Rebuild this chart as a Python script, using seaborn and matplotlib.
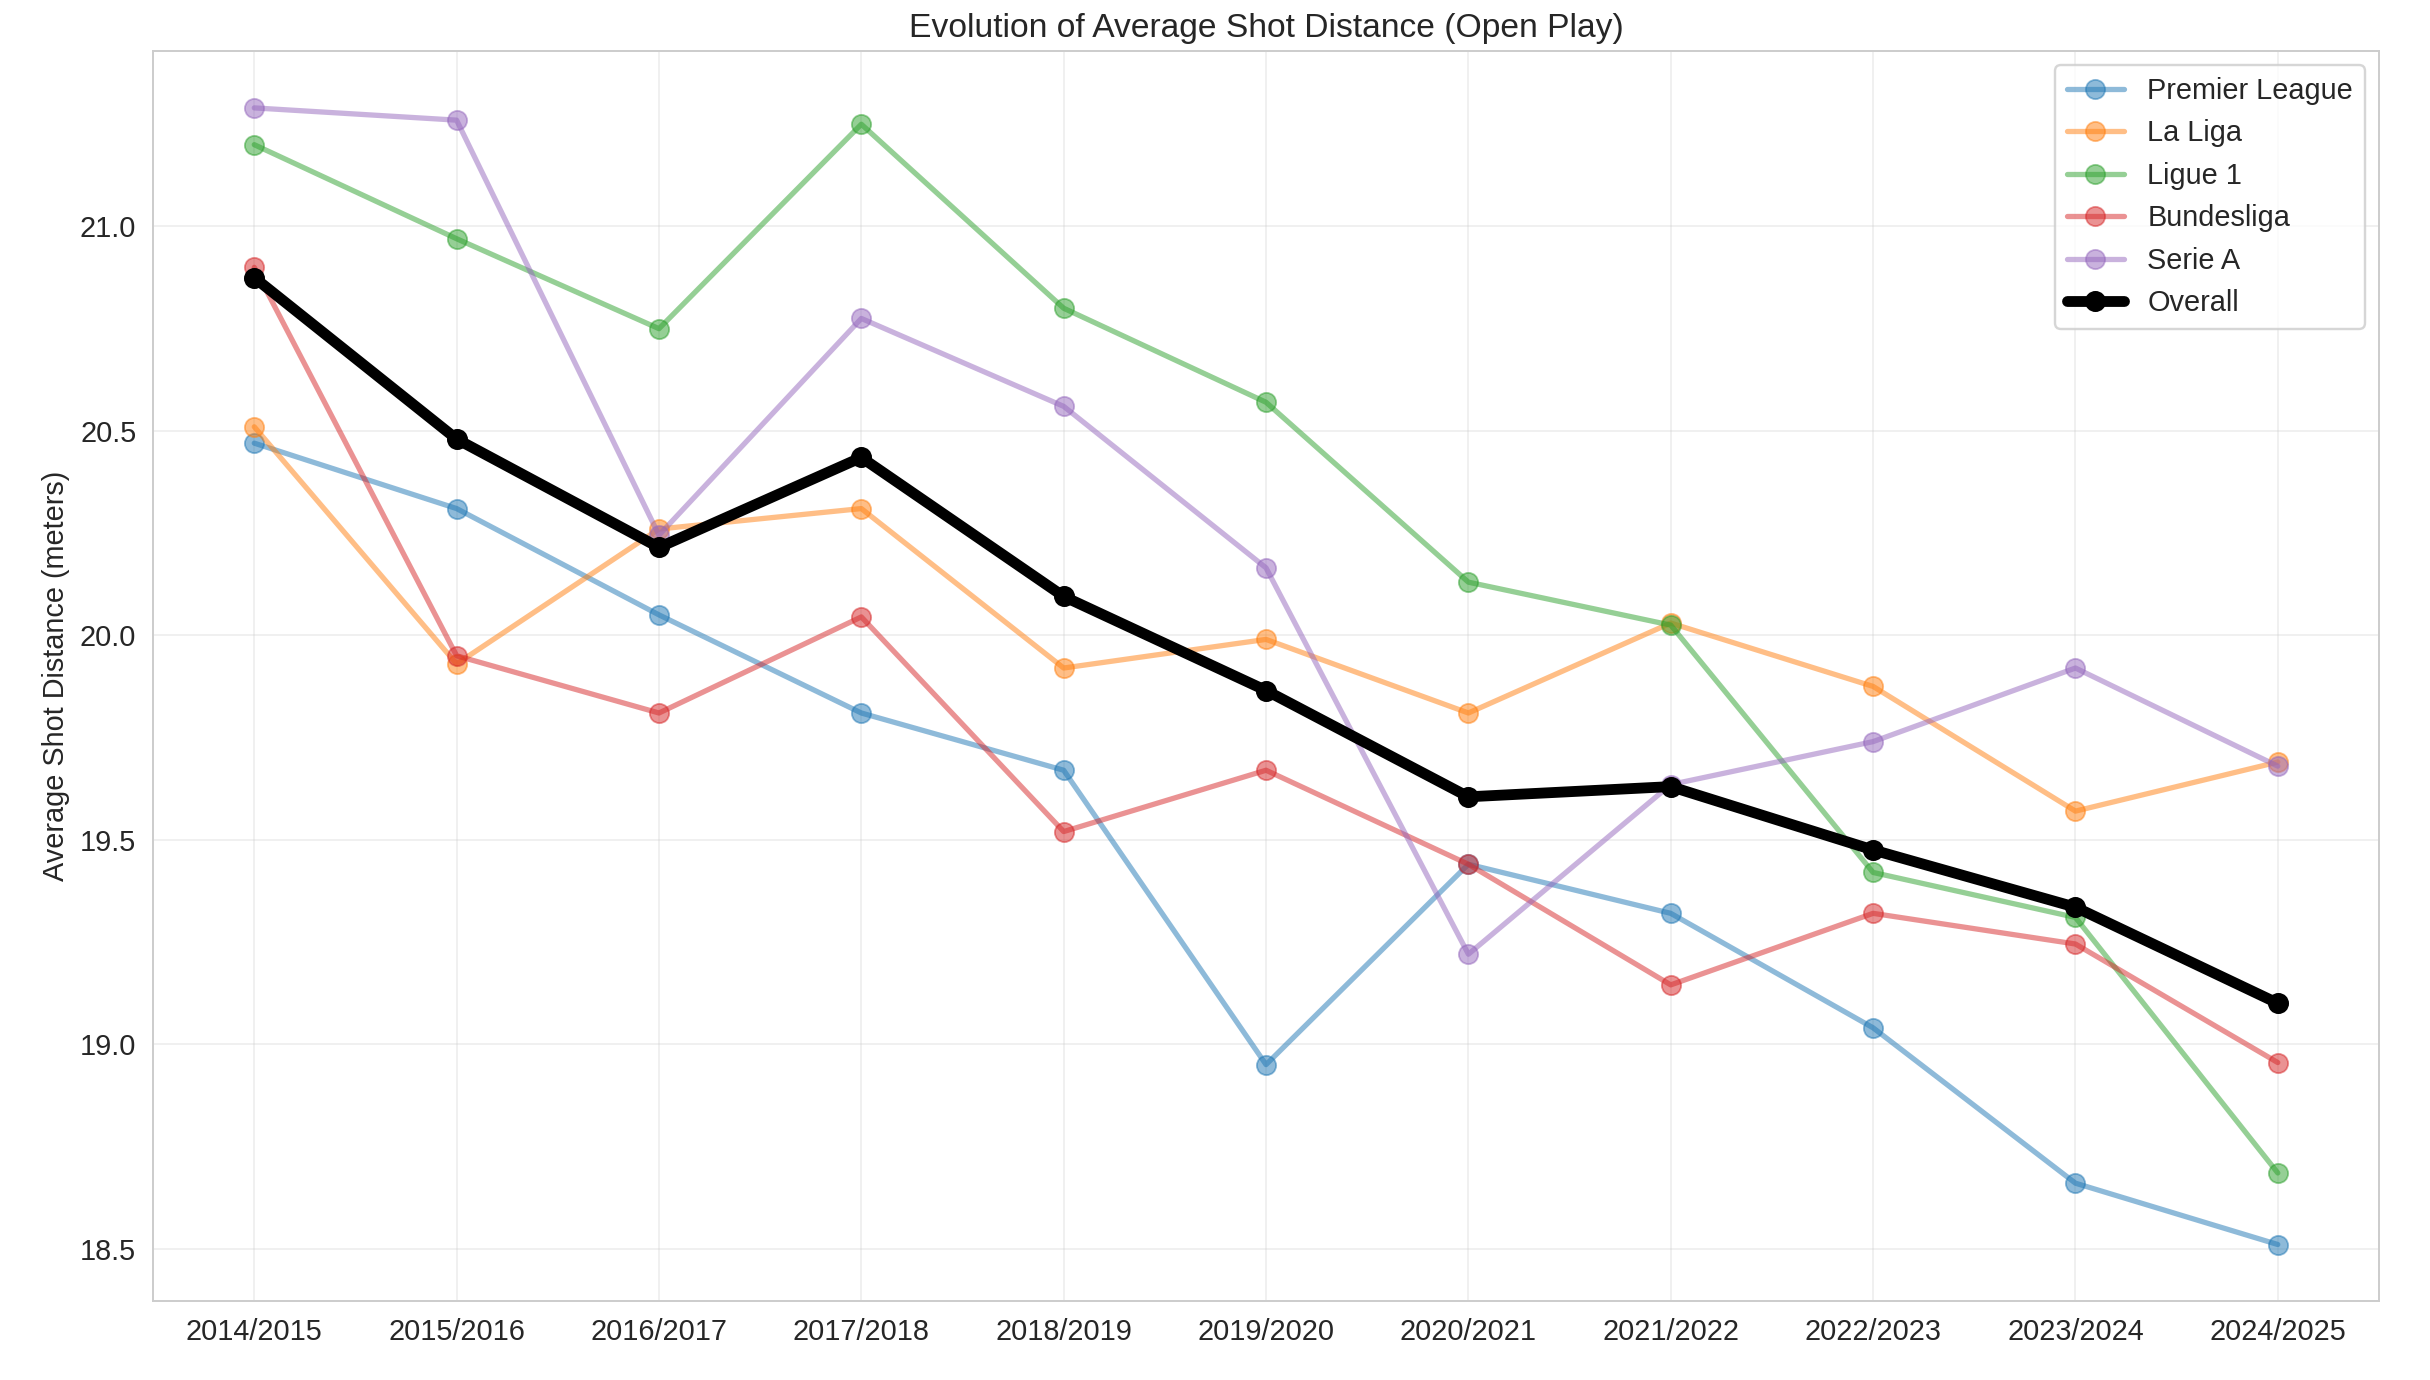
import pandas as pd
import matplotlib.pyplot as plt
import seaborn as sns

seasons = ['2014/2015', '2015/2016', '2016/2017', '2017/2018', '2018/2019', '2019/2020',
           '2020/2021', '2021/2022', '2022/2023', '2023/2024', '2024/2025']

premier_league = [20.47, 20.31, 20.05, 19.81, 19.67, 18.95, 19.44, 19.32, 19.04, 18.66, 18.51]
la_liga = [20.51, 19.93, 20.26, 20.31, 19.92, 19.99, 19.81, 20.03, 19.875, 19.57, 19.69]
ligue_1 = [21.20, 20.97, 20.75, 21.25, 20.80, 20.57, 20.13, 20.025, 19.42, 19.31, 18.685]
bundesliga = [20.90, 19.95, 19.81, 20.045, 19.52, 19.67, 19.44, 19.145, 19.32, 19.245, 18.955]
serie_a = [21.29, 21.26, 20.245, 20.775, 20.56, 20.165, 19.22, 19.635, 19.74, 19.92, 19.68]
overall = [20.875, 20.48, 20.215, 20.435, 20.095, 19.865, 19.605, 19.63, 19.475, 19.335, 19.10]

leagues = {
    'Premier League': premier_league,
    'La Liga': la_liga,
    'Ligue 1': ligue_1,
    'Bundesliga': bundesliga,
    'Serie A': serie_a,
}


def main():
    sns.set_style('whitegrid')
    plt.rcParams['font.family'] = ['Liberation Sans', 'DejaVu Sans']

    df = pd.DataFrame([
        {'season': s, 'league': name, 'distance': v}
        for name, vals in leagues.items()
        for s, v in zip(seasons, vals)
    ])
    df_overall = pd.DataFrame({'season': seasons, 'distance': overall})

    dpi = 173
    fig, ax = plt.subplots(figsize=(2430 / dpi, 1380 / dpi), dpi=dpi)
    fig.subplots_adjust(left=0.063, right=0.979, top=0.963, bottom=0.057)

    sns.lineplot(data=df, x='season', y='distance', hue='league', palette='tab10',
                 marker='o', markersize=8, linewidth=2.2, alpha=0.5, ax=ax)
    sns.lineplot(data=df_overall, x='season', y='distance', color='black',
                 marker='o', markersize=8, linewidth=4.5, label='Overall', ax=ax)

    # marcadores com borda da mesma cor (sem a borda branca do seaborn)
    for line in ax.lines:
        line.set_markeredgecolor(line.get_color())

    ax.set_title('Evolution of Average Shot Distance (Open Play)', fontsize=14)
    ax.set_xlabel('')
    ax.set_ylabel('Average Shot Distance (meters)', fontsize=12)
    ax.tick_params(axis='both', labelsize=12)
    ax.grid(True, alpha=0.3)
    leg = ax.legend(loc='upper right', fontsize=12, frameon=True)
    for line in leg.get_lines():
        line.set_markeredgecolor(line.get_color())

    fig.savefig('out.png', dpi=dpi)


if __name__ == '__main__':
    main()
